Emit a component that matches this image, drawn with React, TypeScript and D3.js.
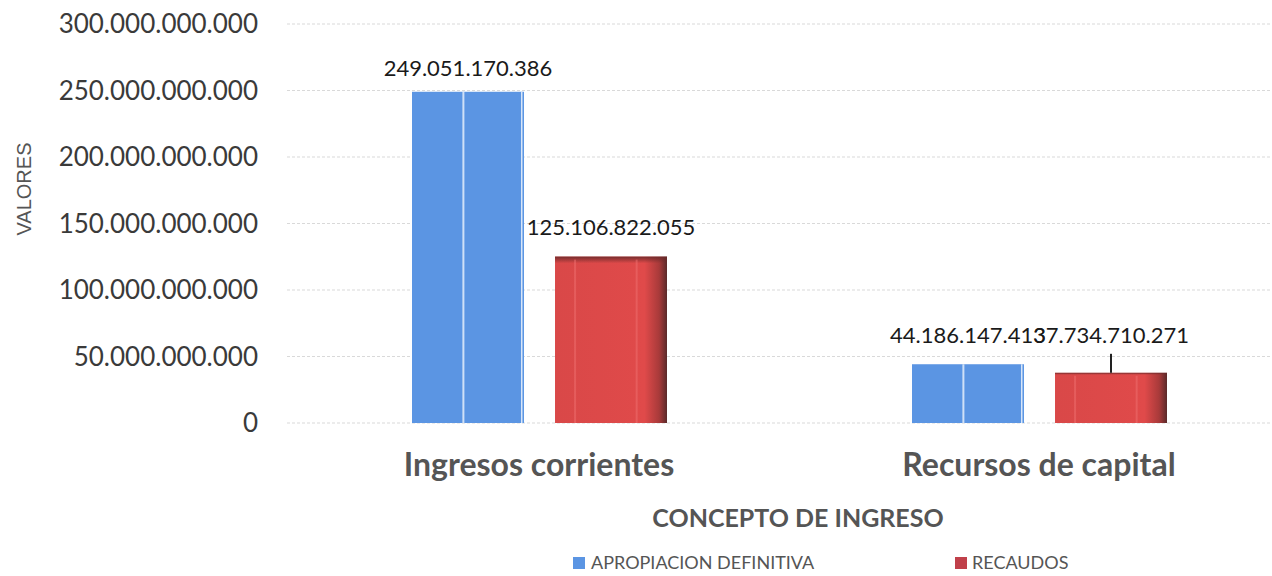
import React from "react";
import * as d3 from "d3";

const categories = ["Ingresos corrientes", "Recursos de capital"];
const seriesNames = ["APROPIACION DEFINITIVA", "RECAUDOS"];
const apropiacion = [249051170386, 44186147413];
const recaudos = [125106822055, 37734710271];
const yTicks = [0, 50e9, 100e9, 150e9, 200e9, 250e9, 300e9];

const W = 1272;
const H = 576;
const FONT = "Lato, 'Open Sans', sans-serif";

const fmt = (v: number) => (v === 0 ? "0" : d3.format(",")(v).replace(/,/g, "."));

export default function App() {
  const left = 289;
  const right = 1289;
  const top = 24;
  const bottom = 423;
  const y = d3.scaleLinear().domain([0, 300e9]).range([bottom, top]);
  const x0 = d3.scaleBand().domain(categories).range([left, right]).paddingInner(0).paddingOuter(0);
  const x1 = d3.scaleBand().domain(seriesNames).range([123, 378]).paddingInner(0.217);
  const series = [apropiacion, recaudos];
  const labelDy = [[-23, -29], [-29, -38]];

  return (
    <svg width={W} height={H} style={{ position: "absolute", left: 0, top: 0, background: "#fff" }}>
      <defs>
        <linearGradient id="redH" x1="0" x2="1" y1="0" y2="0">
          <stop offset="0" stopColor="#d94848" />
          <stop offset="0.8" stopColor="#e04a4a" />
          <stop offset="0.93" stopColor="#a83a3a" />
          <stop offset="1" stopColor="#5a2a2a" />
        </linearGradient>
        <linearGradient id="redV" x1="0" x2="0" y1="0" y2="1">
          <stop offset="0" stopColor="#6a2a2a" stopOpacity="0.9" />
          <stop offset="0.04" stopColor="#6a2a2a" stopOpacity="0" />
          <stop offset="1" stopColor="#6a2a2a" stopOpacity="0" />
        </linearGradient>
      </defs>
      {yTicks.map((t) => (
        <g key={t}>
          <line x1={left - 2} x2={W} y1={y(t)} y2={y(t)} stroke="#d9d9d9" strokeWidth={1} strokeDasharray="3,2" />
          <text x={258} y={y(t)} dy="0.35em" textAnchor="end" fontFamily={FONT} fontSize={26} fill="#3a3a3a">
            {fmt(t)}
          </text>
        </g>
      ))}
      {categories.map((c, ci) => (
        <g key={c} transform={`translate(${x0(c)},0)`}>
          {series.map((s, si) => {
            const bx = x1(seriesNames[si])!;
            const bw = x1.bandwidth();
            const by = y(s[ci]);
            const bh = bottom - by;
            if (si === 0) {
              return (
                <g key={si}>
                  <rect x={bx} y={by} width={bw} height={bh} fill="#5b95e3" />
                  <rect x={bx + bw * 0.45} y={by} width={2} height={bh} fill="#cfe0f7" />
                  <rect x={bx + bw - 3} y={by} width={1.5} height={bh} fill="#d8e6f8" />
                </g>
              );
            }
            return (
              <g key={si}>
                <rect x={bx} y={by} width={bw} height={bh} fill="url(#redH)" />
                <rect x={bx} y={by} width={bw} height={bh} fill="url(#redV)" />
                <rect x={bx + bw * 0.17} y={by + 3} width={2} height={bh - 3} fill="#ef7070" opacity={0.5} />
                <rect x={bx + bw * 0.72} y={by + 3} width={2} height={bh - 3} fill="#ef7070" opacity={0.5} />
              </g>
            );
          })}
          {series.map((s, si) => {
            const bx = x1(seriesNames[si])! + x1.bandwidth() / 2;
            const by = y(s[ci]);
            return (
              <g key={"l" + si}>
                {ci === 1 && si === 1 && (
                  <line x1={bx} x2={bx} y1={by - 19} y2={by} stroke="#222" strokeWidth={2} />
                )}
                <text x={bx} y={by + labelDy[ci][si]} dy="0.35em" textAnchor="middle" fontFamily={FONT} fontSize={22} fill="#1a1a1a">
                  {fmt(s[ci])}
                </text>
              </g>
            );
          })}
          <text x={250} y={465} dy="0.35em" textAnchor="middle" fontFamily={FONT} fontSize={32} fontWeight="bold" fill="#555">
            {c}
          </text>
        </g>
      ))}
      <text x={798} y={518} dy="0.35em" textAnchor="middle" fontFamily={FONT} fontSize={25} fontWeight="bold" fill="#555">
        CONCEPTO DE INGRESO
      </text>
      <text transform="translate(31,189) rotate(-90)" textAnchor="middle" fontFamily="'Liberation Sans', Arial, sans-serif" fontSize={20} fill="#555">
        VALORES
      </text>
      <g fontFamily={FONT} fontSize={18} fill="#555">
        <rect x={573} y={557} width={12} height={12} fill="#5b95e3" />
        <text x={591} y={563} dy="0.35em">{seriesNames[0]}</text>
        <rect x={955} y={557} width={12} height={12} fill="#c0404a" />
        <text x={972} y={563} dy="0.35em">{seriesNames[1]}</text>
      </g>
    </svg>
  );
}
